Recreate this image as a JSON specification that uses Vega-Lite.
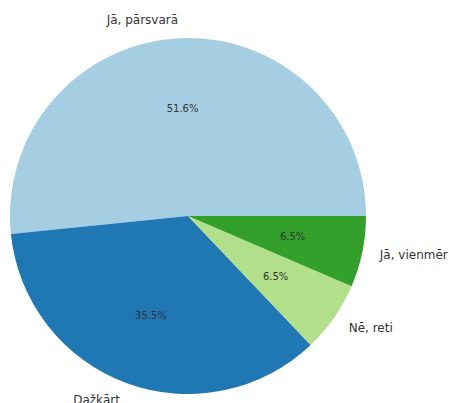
{
  "$schema": "https://vega.github.io/schema/vega-lite/v6.json",
  "width": 376,
  "height": 376,
  "autosize": "none",
  "padding": {"left": 0, "top": 28, "right": 73, "bottom": 0},
  "background": "white",
  "config": {"view": {"stroke": null}},
  "data": {
    "values": [
      {"idx": 1, "label": "Jā, pārsvarā", "count": 16, "pct": "51.6%"},
      {"idx": 2, "label": "Dažkārt", "count": 11, "pct": "35.5%"},
      {"idx": 3, "label": "Nē, reti", "count": 2, "pct": "6.5%"},
      {"idx": 4, "label": "Jā, vienmēr", "count": 2, "pct": "6.5%"}
    ]
  },
  "encoding": {
    "theta": {"field": "count", "type": "quantitative", "stack": true, "scale": {"range": [1.5707963, -4.712389]}},
    "order": {"field": "idx", "type": "quantitative"},
    "color": {
      "field": "label", "type": "nominal", "legend": null,
      "scale": {"domain": ["Jā, pārsvarā", "Dažkārt", "Nē, reti", "Jā, vienmēr"], "range": ["#a6cee3", "#1f78b4", "#b2df8a", "#33a02c"]}
    }
  },
  "layer": [
    {"mark": {"type": "arc", "outerRadius": 178}},
    {
      "mark": {"type": "text", "radius": 106.8, "font": "DejaVu Sans", "fontSize": 10, "fill": "#333333", "align": "center", "baseline": "middle"},
      "encoding": {"text": {"field": "pct"}, "color": {"value": "#333333"}}
    },
    {
      "mark": {"type": "text", "radius": 195.8, "font": "DejaVu Sans", "fontSize": 12, "align": "right", "baseline": "middle"},
      "encoding": {
        "text": {"condition": {"test": "datum.label == 'Jā, pārsvarā' || datum.label == 'Dažkārt'", "field": "label"}, "value": ""},
        "color": {"value": "#333333"}
      }
    },
    {
      "mark": {"type": "text", "radius": 195.8, "font": "DejaVu Sans", "fontSize": 12, "align": "left", "baseline": "middle"},
      "encoding": {
        "text": {"condition": {"test": "datum.label == 'Nē, reti' || datum.label == 'Jā, vienmēr'", "field": "label"}, "value": ""},
        "color": {"value": "#333333"}
      }
    }
  ]
}
